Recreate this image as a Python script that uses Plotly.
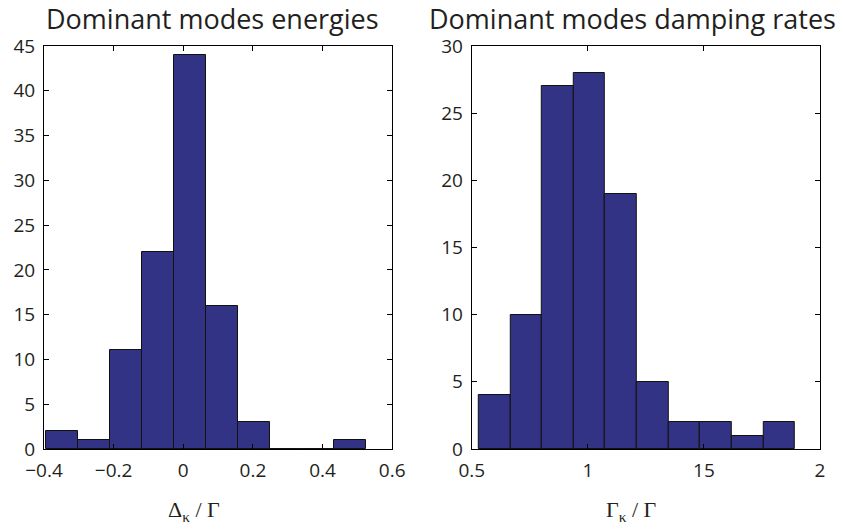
import plotly.graph_objects as go

# ---- data ----
energy_edges = [-0.394, -0.302, -0.210, -0.118, -0.026, 0.066, 0.158, 0.250, 0.342, 0.434, 0.526]
energy_counts = [2, 1, 11, 22, 44, 16, 3, 0, 0, 1]

damping_edges = [0.530, 0.666, 0.803, 0.939, 1.075, 1.212, 1.348, 1.484, 1.620, 1.757, 1.893]
damping_counts = [4, 10, 27, 28, 19, 5, 2, 2, 1, 2]

energy_xticks = [-0.4, -0.2, 0, 0.2, 0.4, 0.6]
energy_xticktext = ["\u22120.4", "\u22120.2", "0", "0.2", "0.4", "0.6"]
damping_xticks = [0.5, 1.0, 1.5, 2.0]
damping_xticktext = ["0.5", "1", "15", "2"]
energy_yticks = list(range(0, 46, 5))
damping_yticks = list(range(0, 31, 5))

titles = ["Dominant modes energies", "Dominant modes damping rates"]
xlabels = ["\u0394<sub>\u03ba</sub> / \u0393", "\u0393<sub>\u03ba</sub> / \u0393"]

BAR = "#333385"
SANS = "Open Sans"
SERIF = "Liberation Serif"
TXT = "#231f20"


def centers(edges):
    return [(a + b) / 2 for a, b in zip(edges[:-1], edges[1:])]


def widths(edges):
    return [b - a for a, b in zip(edges[:-1], edges[1:])]


fig = go.Figure()
fig.add_trace(go.Bar(x=centers(energy_edges), y=energy_counts, width=widths(energy_edges),
                     marker=dict(color=BAR, line=dict(color="#111111", width=1)),
                     xaxis="x", yaxis="y", showlegend=False, hoverinfo="skip"))
fig.add_trace(go.Bar(x=centers(damping_edges), y=damping_counts, width=widths(damping_edges),
                     marker=dict(color=BAR, line=dict(color="#111111", width=1)),
                     xaxis="x2", yaxis="y2", showlegend=False, hoverinfo="skip"))

W, H = 845, 531
# reference pixel geometry
AX_L, AX_R1, AX_L2, AX_R = 44, 394, 474, 824
AX_T, AX_B = 46, 449
L, T, R, B = AX_L, AX_T, W - AX_R, H - AX_B
pw, ph = W - L - R, H - T - B


def px(xw):
    return (xw - AX_L) / pw


def py(yw):
    return (AX_B - yw) / ph


axis_common = dict(showline=True, linecolor="black", linewidth=1, mirror="ticks",
                   ticks="inside", ticklen=5, tickcolor="black", showgrid=False,
                   zeroline=False, tickfont=dict(family=SANS, size=19, color=TXT))

fig.update_layout(
    width=W, height=H,
    margin=dict(l=L, r=R, t=T, b=B),
    paper_bgcolor="white", plot_bgcolor="white",
    bargap=0,
    xaxis=dict(domain=[0, px(AX_R1)], range=[-0.4, 0.6], tickvals=energy_xticks,
               ticktext=energy_xticktext, anchor="y", ticklabelstandoff=4, **axis_common),
    yaxis=dict(domain=[0, 1], range=[0, 45], tickvals=energy_yticks, anchor="x",
               ticklabelstandoff=4, **axis_common),
    xaxis2=dict(domain=[px(AX_L2), 1], range=[0.5, 2.0], tickvals=damping_xticks,
                ticktext=damping_xticktext, anchor="y2", ticklabelstandoff=4, **axis_common),
    yaxis2=dict(domain=[0, 1], range=[0, 30], tickvals=damping_yticks, anchor="x2",
                ticklabelstandoff=4, **axis_common),
    annotations=[
        dict(text=titles[0], x=px(213), y=py(19), xref="paper", yref="paper",
             xanchor="center", yanchor="middle",
             showarrow=False, font=dict(family=SANS, size=27, color=TXT)),
        dict(text=titles[1], x=px(636), y=py(19), xref="paper", yref="paper",
             xanchor="center", yanchor="middle",
             showarrow=False, font=dict(family=SANS, size=27, color=TXT)),
        dict(text=xlabels[0], x=px(195), y=py(511), xref="paper", yref="paper",
             xanchor="center", yanchor="middle",
             showarrow=False, font=dict(family=SERIF, size=22, color=TXT)),
        dict(text=xlabels[1], x=px(635), y=py(511), xref="paper", yref="paper",
             xanchor="center", yanchor="middle",
             showarrow=False, font=dict(family=SERIF, size=22, color=TXT)),
    ],
)

fig.write_html("out.html",
               config={"displayModeBar": False},
               post_script="document.body.style.margin='0';document.body.style.overflow='hidden';")
